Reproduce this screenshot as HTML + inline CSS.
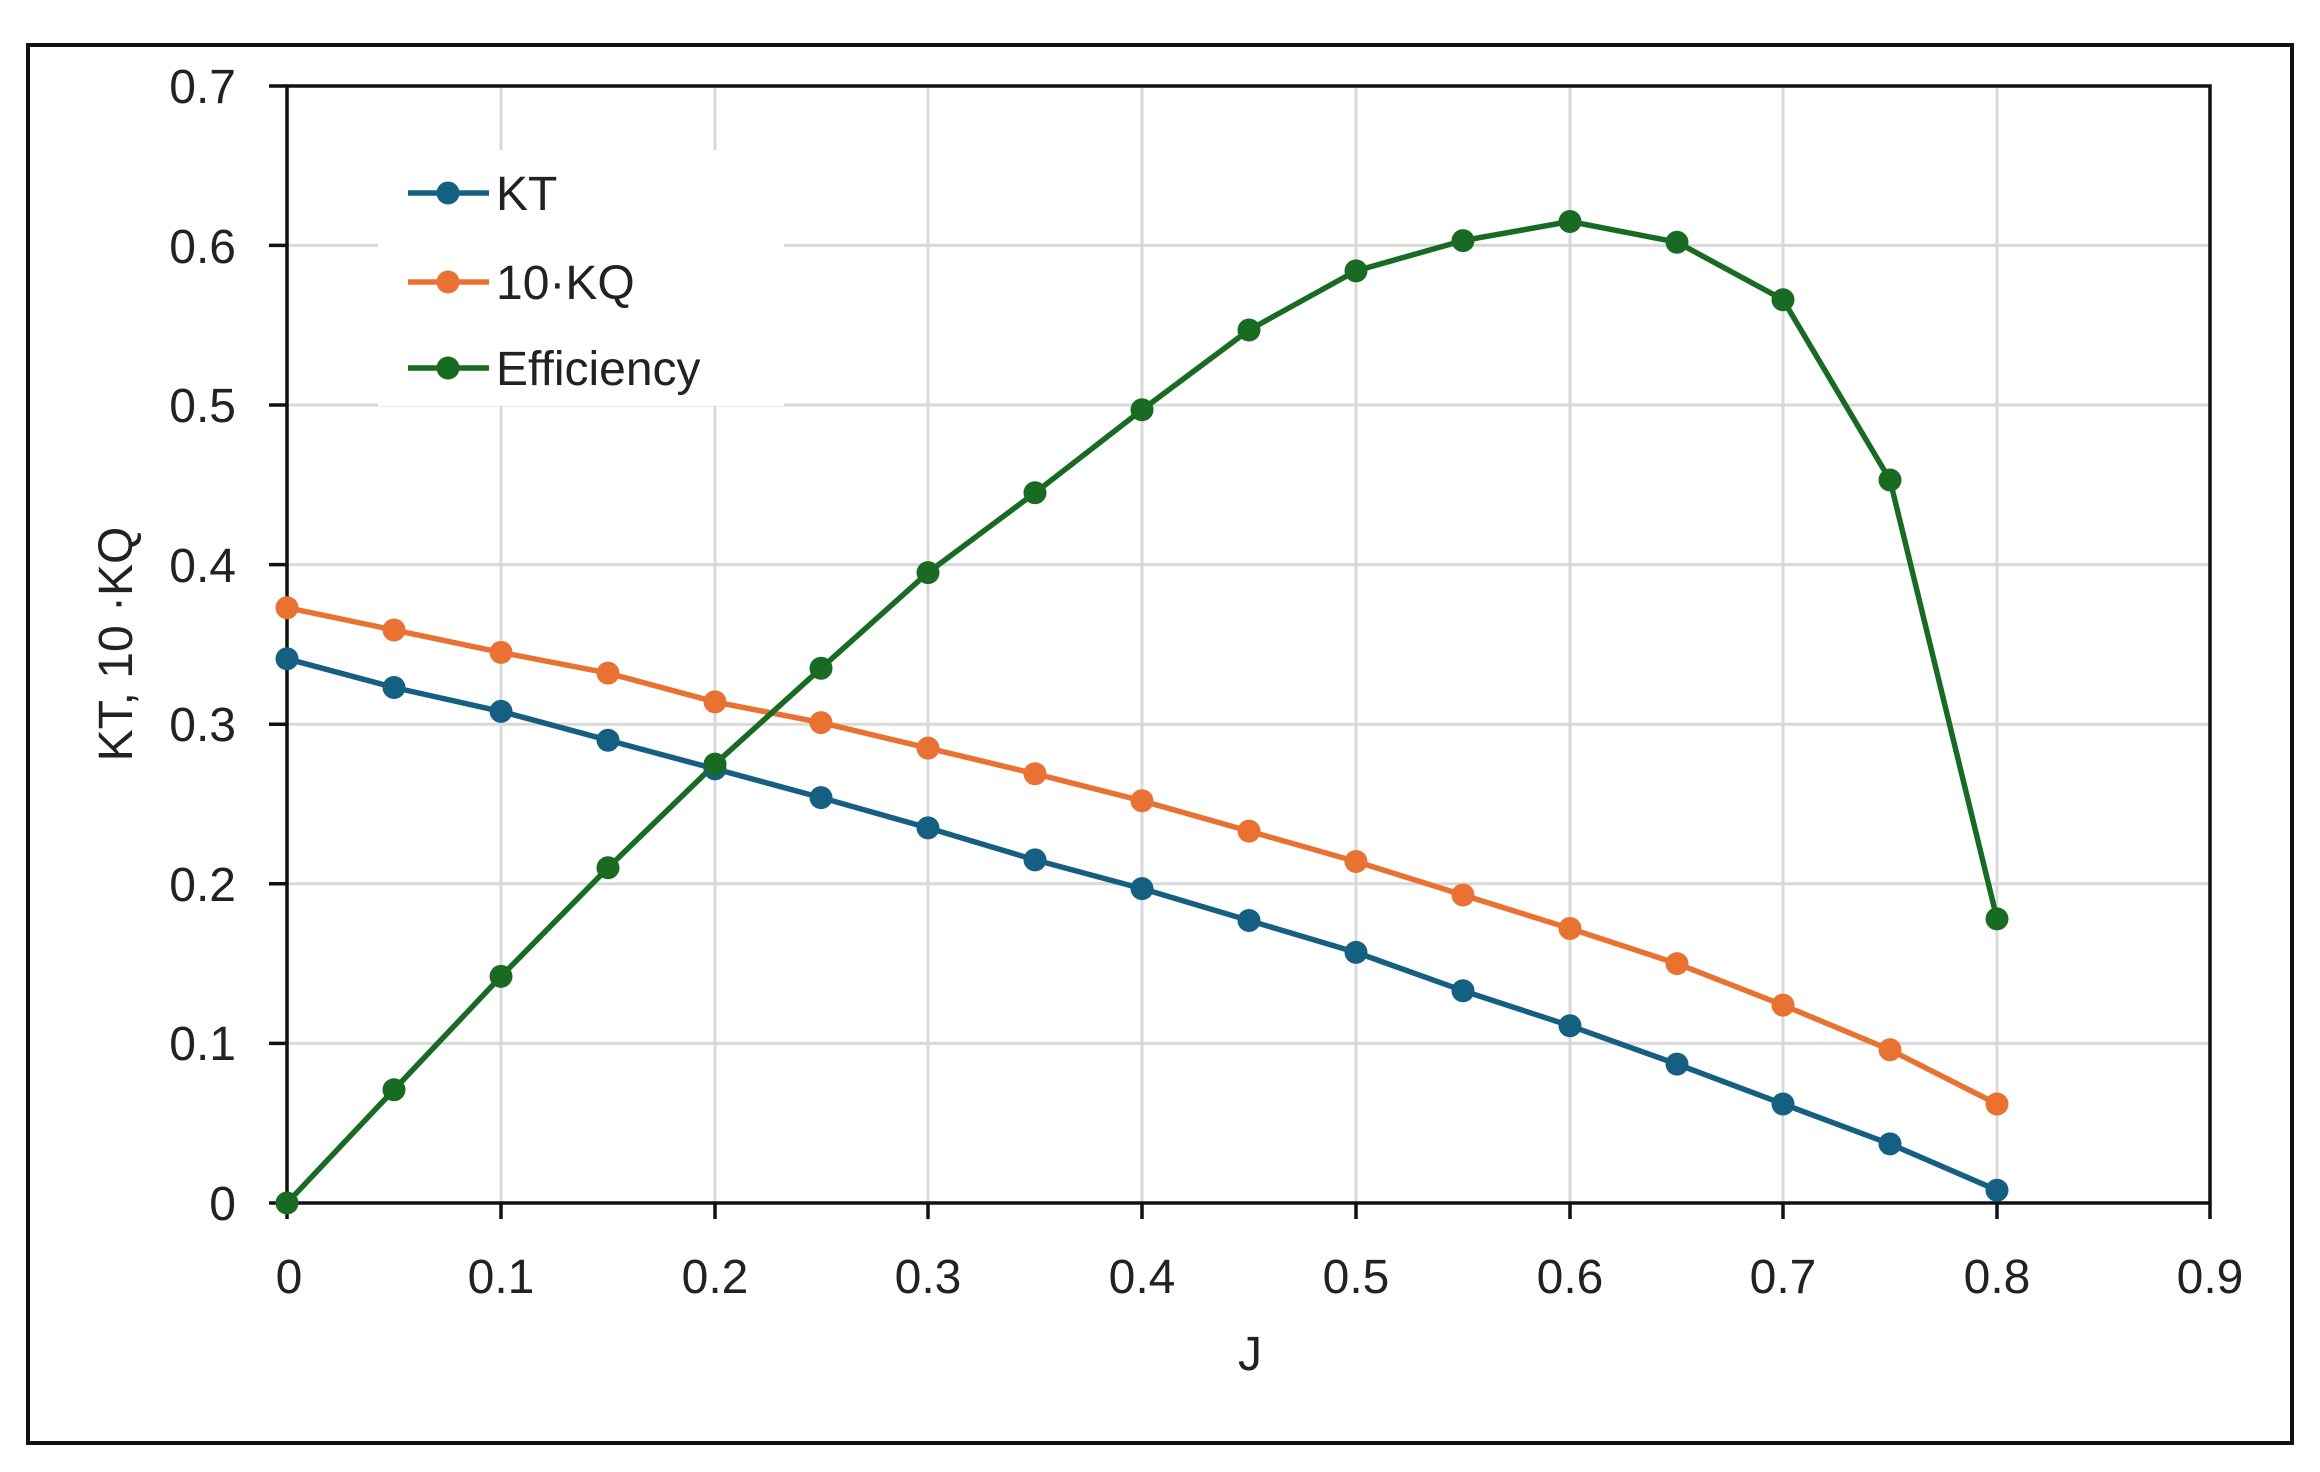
<!DOCTYPE html>
<html><head><meta charset="utf-8"><style>
html,body{margin:0;padding:0;background:#fff;}
svg{display:block;}
text{font-family:"Liberation Sans",sans-serif;fill:#222;}
circle{r:11.5px;}
</style></head><body>
<svg width="2320" height="1472" viewBox="0 0 2320 1472" xmlns="http://www.w3.org/2000/svg">
<rect x="0" y="0" width="2320" height="1472" fill="#fff"/>
<rect x="28" y="45" width="2264" height="1398" fill="none" stroke="#111" stroke-width="4"/>
<g stroke="#d9d9d9" stroke-width="3">
<line x1="501" y1="86" x2="501" y2="1203"/><line x1="715" y1="86" x2="715" y2="1203"/>
<line x1="928" y1="86" x2="928" y2="1203"/><line x1="1142" y1="86" x2="1142" y2="1203"/>
<line x1="1356" y1="86" x2="1356" y2="1203"/><line x1="1570" y1="86" x2="1570" y2="1203"/>
<line x1="1783" y1="86" x2="1783" y2="1203"/><line x1="1997" y1="86" x2="1997" y2="1203"/>
<line x1="287" y1="1043.4" x2="2210" y2="1043.4"/><line x1="287" y1="883.8" x2="2210" y2="883.8"/>
<line x1="287" y1="724.2" x2="2210" y2="724.2"/><line x1="287" y1="564.6" x2="2210" y2="564.6"/>
<line x1="287" y1="405" x2="2210" y2="405"/><line x1="287" y1="245.4" x2="2210" y2="245.4"/>
</g>
<rect x="378" y="150" width="406" height="256" fill="#fff"/>
<g stroke="#111" stroke-width="3.5" fill="none">
<rect x="287" y="86" width="1923" height="1117"/>
<line x1="269" y1="86" x2="287" y2="86"/><line x1="269" y1="245.4" x2="287" y2="245.4"/>
<line x1="269" y1="405" x2="287" y2="405"/><line x1="269" y1="564.6" x2="287" y2="564.6"/>
<line x1="269" y1="724.2" x2="287" y2="724.2"/><line x1="269" y1="883.8" x2="287" y2="883.8"/>
<line x1="269" y1="1043.4" x2="287" y2="1043.4"/><line x1="269" y1="1203" x2="287" y2="1203"/>
<line x1="287" y1="1203" x2="287" y2="1219"/><line x1="501" y1="1203" x2="501" y2="1219"/>
<line x1="715" y1="1203" x2="715" y2="1219"/><line x1="928" y1="1203" x2="928" y2="1219"/>
<line x1="1142" y1="1203" x2="1142" y2="1219"/><line x1="1356" y1="1203" x2="1356" y2="1219"/>
<line x1="1570" y1="1203" x2="1570" y2="1219"/><line x1="1783" y1="1203" x2="1783" y2="1219"/>
<line x1="1997" y1="1203" x2="1997" y2="1219"/><line x1="2210" y1="1203" x2="2210" y2="1219"/>
</g>
<g font-size="48" text-anchor="end">
<text x="236" y="103">0.7</text><text x="236" y="263">0.6</text><text x="236" y="422">0.5</text>
<text x="236" y="582">0.4</text><text x="236" y="741">0.3</text><text x="236" y="901">0.2</text>
<text x="236" y="1060">0.1</text><text x="236" y="1220">0</text>
</g>
<g font-size="48" text-anchor="middle">
<text x="289" y="1293">0</text><text x="501" y="1293">0.1</text><text x="715" y="1293">0.2</text>
<text x="928" y="1293">0.3</text><text x="1142" y="1293">0.4</text><text x="1356" y="1293">0.5</text>
<text x="1570" y="1293">0.6</text><text x="1783" y="1293">0.7</text><text x="1997" y="1293">0.8</text>
<text x="2210" y="1293">0.9</text>
<text x="1250" y="1370">J</text>
<text x="0" y="0" transform="translate(132,644) rotate(-90)">KT, 10 ·KQ</text>
</g>
<g fill="none" stroke-width="5.5" stroke-linejoin="round">
<polyline stroke="#156082" points="287,658.8 394,687.5 501,711.4 608,740.2 715,768.9 821,797.6 928,827.9 1035,859.9 1142,888.6 1249,920.5 1356,952.4 1463,990.7 1570,1025.8 1677,1064.1 1783,1104 1890,1143.9 1997,1190.2"/>
<polyline stroke="#e97132" points="287,607.7 394,630 501,652.4 608,673.1 715,701.9 821,722.6 928,748.1 1035,773.7 1142,800.8 1249,831.1 1356,861.5 1463,895 1570,928.5 1677,963.6 1783,1005.1 1890,1049.8 1997,1104"/>
<polyline stroke="#196b24" points="287,1203 394,1089.7 501,976.4 608,867.8 715,764.1 821,668.3 928,572.6 1035,492.8 1142,409.8 1249,330 1356,270.9 1463,240.6 1570,221.5 1677,242.2 1783,299.7 1890,480 1997,918.9"/>
</g>
<g fill="#156082">
<circle cx="287" cy="658.8" r="11.5"/><circle cx="394" cy="687.5" r="11.5"/><circle cx="501" cy="711.4" r="11.5"/><circle cx="608" cy="740.2" r="11.5"/><circle cx="715" cy="768.9" r="11.5"/><circle cx="821" cy="797.6" r="11.5"/><circle cx="928" cy="827.9" r="11.5"/><circle cx="1035" cy="859.9" r="11.5"/><circle cx="1142" cy="888.6" r="11.5"/><circle cx="1249" cy="920.5" r="11.5"/><circle cx="1356" cy="952.4" r="11.5"/><circle cx="1463" cy="990.7" r="11.5"/><circle cx="1570" cy="1025.8" r="11.5"/><circle cx="1677" cy="1064.1" r="11.5"/><circle cx="1783" cy="1104" r="11.5"/><circle cx="1890" cy="1143.9" r="11.5"/><circle cx="1997" cy="1190.2" r="11.5"/>
</g>
<g fill="#e97132">
<circle cx="287" cy="607.7" r="11.5"/><circle cx="394" cy="630" r="11.5"/><circle cx="501" cy="652.4" r="11.5"/><circle cx="608" cy="673.1" r="11.5"/><circle cx="715" cy="701.9" r="11.5"/><circle cx="821" cy="722.6" r="11.5"/><circle cx="928" cy="748.1" r="11.5"/><circle cx="1035" cy="773.7" r="11.5"/><circle cx="1142" cy="800.8" r="11.5"/><circle cx="1249" cy="831.1" r="11.5"/><circle cx="1356" cy="861.5" r="11.5"/><circle cx="1463" cy="895" r="11.5"/><circle cx="1570" cy="928.5" r="11.5"/><circle cx="1677" cy="963.6" r="11.5"/><circle cx="1783" cy="1005.1" r="11.5"/><circle cx="1890" cy="1049.8" r="11.5"/><circle cx="1997" cy="1104" r="11.5"/>
</g>
<g fill="#196b24">
<circle cx="287" cy="1203" r="11.5"/><circle cx="394" cy="1089.7" r="11.5"/><circle cx="501" cy="976.4" r="11.5"/><circle cx="608" cy="867.8" r="11.5"/><circle cx="715" cy="764.1" r="11.5"/><circle cx="821" cy="668.3" r="11.5"/><circle cx="928" cy="572.6" r="11.5"/><circle cx="1035" cy="492.8" r="11.5"/><circle cx="1142" cy="409.8" r="11.5"/><circle cx="1249" cy="330" r="11.5"/><circle cx="1356" cy="270.9" r="11.5"/><circle cx="1463" cy="240.6" r="11.5"/><circle cx="1570" cy="221.5" r="11.5"/><circle cx="1677" cy="242.2" r="11.5"/><circle cx="1783" cy="299.7" r="11.5"/><circle cx="1890" cy="480" r="11.5"/><circle cx="1997" cy="918.9" r="11.5"/>
</g>
<g stroke-width="5.5">
<line x1="408" y1="193" x2="489" y2="193" stroke="#156082"/><circle cx="448" cy="193" r="11.5" fill="#156082"/>
<line x1="408" y1="282" x2="489" y2="282" stroke="#e97132"/><circle cx="448" cy="282" r="11.5" fill="#e97132"/>
<line x1="408" y1="368" x2="489" y2="368" stroke="#196b24"/><circle cx="448" cy="368" r="11.5" fill="#196b24"/>
</g>
<g font-size="48">
<text x="496" y="210">KT</text><text x="496" y="299">10·KQ</text><text x="496" y="385">Efficiency</text>
</g>
</svg>
</body></html>
